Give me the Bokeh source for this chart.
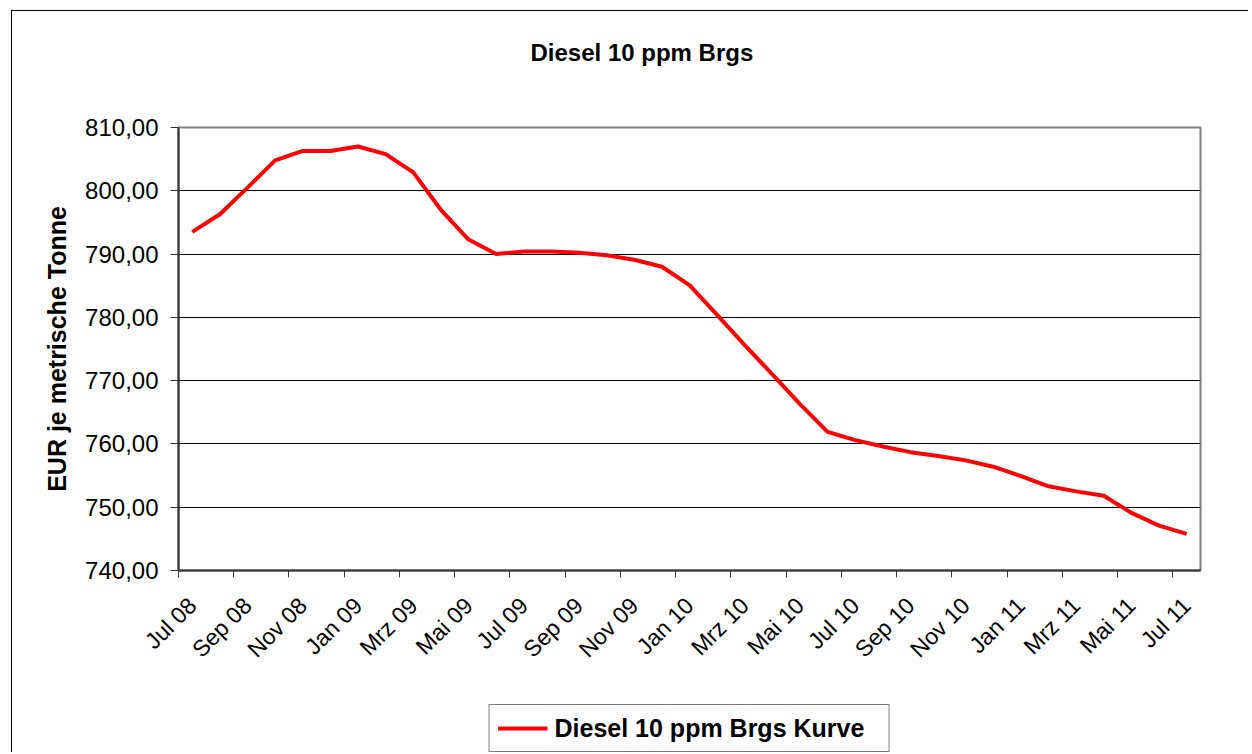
import math
from bokeh.plotting import figure
from bokeh.layouts import column
from bokeh.models import FixedTicker, Legend, LegendItem, ColumnDataSource, Range1d, Title
from bokeh.embed import file_html
from bokeh.resources import INLINE

# ---- data ----
months = ["Jul 08", "Aug 08", "Sep 08", "Okt 08", "Nov 08", "Dez 08",
          "Jan 09", "Feb 09", "Mrz 09", "Apr 09", "Mai 09", "Jun 09",
          "Jul 09", "Aug 09", "Sep 09", "Okt 09", "Nov 09", "Dez 09",
          "Jan 10", "Feb 10", "Mrz 10", "Apr 10", "Mai 10", "Jun 10",
          "Jul 10", "Aug 10", "Sep 10", "Okt 10", "Nov 10", "Dez 10",
          "Jan 11", "Feb 11", "Mrz 11", "Apr 11", "Mai 11", "Jun 11",
          "Jul 11"]
prices = [793.5, 796.3, 800.5, 804.8, 806.3, 806.3, 807.0, 805.8, 802.9,
          797.0, 792.3, 790.0, 790.4, 790.4, 790.2, 789.8, 789.1, 788.0,
          785.1, 780.4, 775.6, 771.0, 766.3, 761.9, 760.6, 759.6, 758.7,
          758.1, 757.4, 756.4, 754.9, 753.3, 752.5, 751.8, 749.1, 747.1,
          745.8]
y_ticks = [740, 750, 760, 770, 780, 790, 800, 810]
y_labels = ["740,00", "750,00", "760,00", "770,00", "780,00", "790,00",
            "800,00", "810,00"]
title_text = "Diesel 10 ppm Brgs"
y_title = "EUR je metrische Tonne"
series_name = "Diesel 10 ppm Brgs Kurve"

FONT = "Liberation Sans"

idx = list(range(len(months)))
src = ColumnDataSource(dict(x=idx, y=prices, m=months))

p = figure(frame_width=1022, frame_height=443,
           min_border_left=166, min_border_right=48,
           min_border_top=116, min_border_bottom=120,
           x_range=Range1d(-0.5, len(months) - 0.5),
           y_range=Range1d(y_ticks[0], y_ticks[-1]),
           output_backend="svg", toolbar_location=None, margin=0)
p.title.visible = False

p.background_fill_color = "white"
p.border_fill_color = "white"
p.outline_line_color = "#808080"
p.outline_line_width = 2

# title: a spacer panel next to the frame, then the real title above it
spacer = Title(text=" ", text_font_size="1px", standoff=54)
p.add_layout(spacer, "above")
main_title = Title(text=title_text, text_font=FONT, text_font_size="24px",
                   text_font_style="bold", text_color="black",
                   align="left", offset=352, standoff=10)
p.add_layout(main_title, "above")

r = p.line("x", "y", source=src, line_color="#FF0000", line_width=4)

# x axis
tick_pos = idx[::2]
boundaries = [i - 0.5 for i in range(0, len(months), 2)]
p.xaxis.ticker = FixedTicker(ticks=tick_pos, minor_ticks=boundaries)
p.xaxis.major_label_overrides = {i: months[i] for i in tick_pos}
p.xaxis.major_tick_line_color = None
p.xaxis.minor_tick_line_color = "#333333"
p.xaxis.minor_tick_line_width = 1
p.xaxis.minor_tick_out = 7
p.xaxis.minor_tick_in = 0
p.xaxis.axis_line_color = "#333333"
p.xaxis.axis_line_width = 2
p.xaxis.major_label_orientation = math.pi / 4
p.xaxis.major_label_text_font = FONT
p.xaxis.major_label_text_font_size = "23px"
p.xaxis.major_label_text_color = "black"
p.xaxis.major_label_standoff = 24

# y axis
p.yaxis.ticker = FixedTicker(ticks=y_ticks, minor_ticks=[])
p.yaxis.major_label_overrides = dict(zip(y_ticks, y_labels))
p.yaxis.major_tick_line_color = "#333333"
p.yaxis.major_tick_out = 8
p.yaxis.major_tick_in = 0
p.yaxis.axis_line_color = "#333333"
p.yaxis.axis_line_width = 2
p.yaxis.major_label_text_font = FONT
p.yaxis.major_label_text_font_size = "24px"
p.yaxis.major_label_text_color = "black"
p.yaxis.major_label_standoff = 12
p.yaxis.axis_label = y_title
p.yaxis.axis_label_text_font = FONT
p.yaxis.axis_label_text_font_size = "25px"
p.yaxis.axis_label_text_font_style = "bold"
p.yaxis.axis_label_text_color = "black"
p.yaxis.axis_label_standoff = 11

p.xgrid.visible = False
p.ygrid.ticker = FixedTicker(ticks=y_ticks)
p.ygrid.grid_line_color = "black"
p.ygrid.grid_line_width = 1

# ---- legend strip (separate canvas below the chart) ----
p2 = figure(frame_width=1022, frame_height=48,
            min_border_left=166, min_border_right=48,
            min_border_top=14, min_border_bottom=0,
            x_range=Range1d(-0.5, len(months) - 0.5),
            y_range=Range1d(0, 1),
            x_axis_type=None, y_axis_type=None,
            output_backend="svg", toolbar_location=None, margin=0)
p2.title.visible = False
p2.outline_line_color = None
p2.background_fill_color = "white"
p2.border_fill_color = "white"
p2.xgrid.visible = False
p2.ygrid.visible = False
r2 = p2.line("x", "y", source=src, line_color="#FF0000", line_width=4)

legend = Legend(items=[LegendItem(label=series_name, renderers=[r2])],
                location="top_center", orientation="horizontal")
legend.label_text_font = FONT
legend.label_text_font_size = "25px"
legend.label_text_font_style = "bold"
legend.label_text_color = "black"
legend.glyph_width = 50
legend.glyph_height = 30
legend.label_standoff = 7
legend.label_width = 326
legend.label_height = 30
legend.padding = 8
legend.margin = 0
legend.border_line_color = "black"
legend.border_line_width = 1
p2.add_layout(legend, "center")

layout = column(p, p2, spacing=0, margin=(10, 0, 0, 11),
                styles={"border-left": "1px solid black",
                        "border-top": "1px solid black"})

open("out.html", "w").write(file_html(layout, INLINE))
